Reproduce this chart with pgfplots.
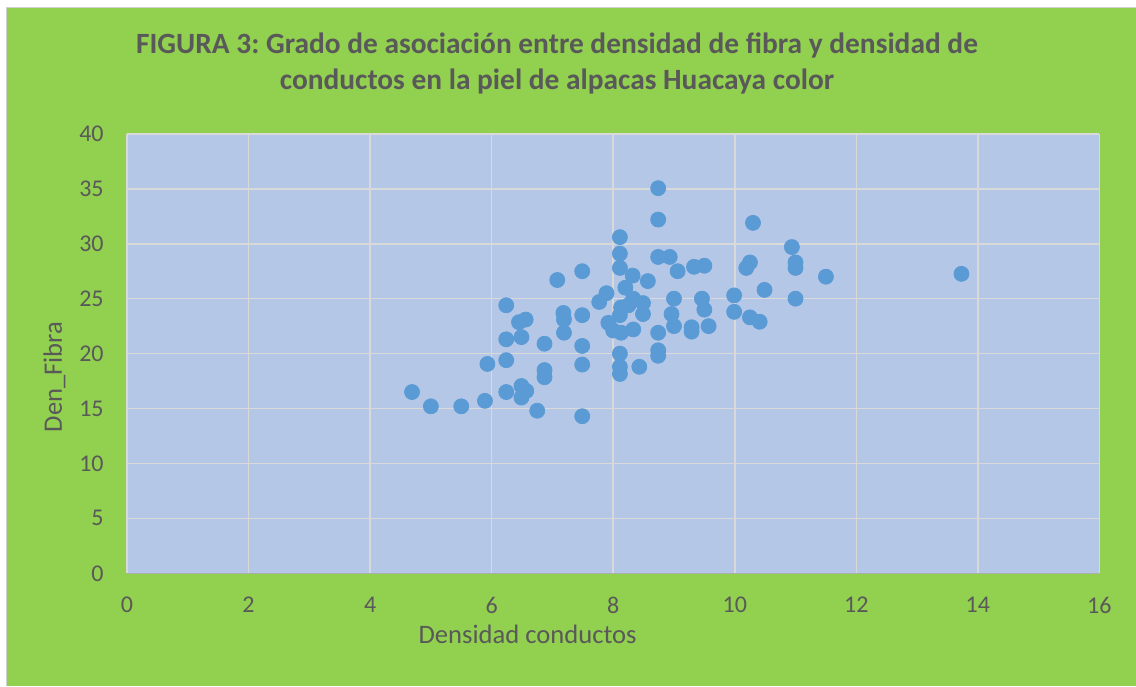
\documentclass[border=0pt]{standalone}
\usepackage{pgfplots}
\pgfplotsset{compat=1.18}
\usepackage{fontspec}
\setmainfont{Carlito}
\frenchspacing
\definecolor{bggreen}{HTML}{92D050}
\definecolor{plotbg}{HTML}{B4C7E7}
\definecolor{mk}{HTML}{5B9BD5}
\definecolor{gridc}{HTML}{D9D9D9}
\definecolor{txt}{HTML}{595959}
\definecolor{frame}{HTML}{D0D0D0}
\begin{document}
\begin{tikzpicture}
\useasboundingbox (0,0) rectangle (568pt,343pt);
\fill[white] (0,0) rectangle (568pt,343pt);
\fill[bggreen] (3.5pt,0) rectangle (568pt,339pt);
\draw[frame,line width=0.8pt] (3.2pt,0) -- (3.2pt,339.3pt) -- (568pt,339.3pt);
\node[anchor=base,text=txt,font=\fontsize{14.7pt}{16pt}\selectfont\bfseries,inner sep=0pt] at (278.5pt,316pt) {FIGURA 3: Grado de asociación entre densidad de fibra y densidad de};
\node[anchor=base,text=txt,font=\fontsize{14.7pt}{16pt}\selectfont\bfseries,inner sep=0pt] at (278.5pt,298pt) {conductos en la piel de alpacas Huacaya color};
\begin{axis}[
  at={(63.5pt,56.35pt)}, anchor=south west,
  scale only axis, width=486.2pt, height=219.7pt,
  xmin=0, xmax=16, ymin=0, ymax=40,
  xtick={0,2,...,16}, ytick={0,5,...,40},
  major tick length=0pt,
  axis line style={draw=none},
  axis background/.style={fill=plotbg},
  grid=major,
  major grid style={draw=gridc, line width=0.75pt},
  /pgf/number format/assume math mode=true,
  ticklabel style={font=\fontsize{12pt}{14pt}\selectfont, text=txt, inner sep=0pt},
  yticklabel style={anchor=east, xshift=-11.5pt},
  xticklabel style={anchor=north, yshift=-11.8pt},
  xlabel={Densidad conductos},
  ylabel={Den\_Fibra},
  label style={font=\fontsize{13.3pt}{15pt}\selectfont, text=txt, inner sep=0pt},
  xlabel style={at={(axis description cs:0.412,0)}, anchor=base, yshift=-35.35pt},
  ylabel style={at={(axis description cs:0,0.447)}, anchor=base, yshift=32.5pt},
  clip=false,
]
\draw[draw=gridc!80!black, line width=0.75pt] (axis cs:0,0) -- (axis cs:16,0);
\addplot[only marks, mark=*, mark size=3.75pt, mark options={fill=mk, draw=mk}] coordinates {
(4.69,16.5) (5.0,15.2) (5.5,15.2) (5.89,15.7) (5.93,19.06)
(6.24,24.4) (6.24,21.3) (6.24,19.4) (6.24,16.5)
(6.45,22.86) (6.56,23.1) (6.49,21.5) (6.49,17.05) (6.57,16.6) (6.49,16.0)
(6.75,14.8) (6.87,20.9) (6.87,18.5) (6.87,17.85)
(7.08,26.7) (7.18,23.7) (7.19,23.1) (7.19,21.9)
(7.49,27.5) (7.49,23.5) (7.49,20.7) (7.49,19.0) (7.49,14.3)
(7.77,24.7) (7.89,25.5) (7.92,22.8) (8.0,22.1) (8.13,21.9)
(8.11,30.6) (8.11,29.1) (8.11,27.8) (8.11,20.0) (8.11,18.8) (8.11,18.15)
(8.2,26.0) (8.32,27.1) (8.13,24.2) (8.25,24.4) (8.11,23.5) (8.33,25.0)
(8.33,22.2) (8.43,18.8) (8.49,24.6) (8.49,23.6) (8.57,26.6)
(8.74,35.06) (8.74,32.2) (8.74,28.8) (8.74,21.9) (8.74,20.3) (8.74,19.8)
(8.93,28.8) (9.06,27.5) (9.0,25.0) (8.96,23.6) (9.0,22.5)
(9.29,22.4) (9.29,22.0) (9.33,27.9) (9.5,28.0) (9.46,25.0) (9.5,24.0) (9.57,22.5)
(9.99,25.3) (9.99,23.8) (10.25,23.3) (10.41,22.9) (10.19,27.8) (10.25,28.3)
(10.3,31.9) (10.49,25.8) (10.94,29.7) (11.0,28.3) (11.0,27.8) (11.0,25.0)
(11.5,27.0) (13.73,27.26)
};
\end{axis}
\end{tikzpicture}
\end{document}
